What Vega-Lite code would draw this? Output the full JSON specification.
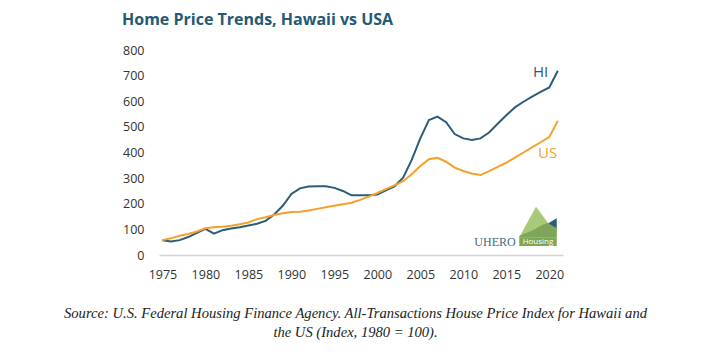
{
  "$schema": "https://vega.github.io/schema/vega-lite/v6.json",
  "width": 404,
  "height": 205,
  "autosize": "none",
  "padding": {"left": 159, "top": 50, "right": 154, "bottom": 99},
  "background": "white",
  "config": {"view": {"stroke": null}, "font": "Open Sans", "axis": {"labelOverlap": false, "grid": false, "ticks": false}},
  "title": {
    "text": "Home Price Trends, Hawaii vs USA",
    "anchor": "start",
    "frame": "group",
    "dx": -37,
    "font": "Open Sans",
    "fontSize": 16,
    "fontWeight": 700,
    "color": "#235a74",
    "offset": 16
  },
  "datasets": {
    "prices": [
      {"year": 1975, "HI": 58, "US": 58},
      {"year": 1976, "HI": 53, "US": 65},
      {"year": 1977, "HI": 58, "US": 75},
      {"year": 1978, "HI": 70, "US": 82},
      {"year": 1979, "HI": 86, "US": 92},
      {"year": 1980, "HI": 102, "US": 104},
      {"year": 1981, "HI": 83, "US": 108},
      {"year": 1982, "HI": 97, "US": 110},
      {"year": 1983, "HI": 103, "US": 114},
      {"year": 1984, "HI": 108, "US": 120},
      {"year": 1985, "HI": 115, "US": 127},
      {"year": 1986, "HI": 122, "US": 140},
      {"year": 1987, "HI": 133, "US": 147},
      {"year": 1988, "HI": 158, "US": 156},
      {"year": 1989, "HI": 192, "US": 163},
      {"year": 1990, "HI": 238, "US": 168},
      {"year": 1991, "HI": 260, "US": 169},
      {"year": 1992, "HI": 267, "US": 174},
      {"year": 1993, "HI": 268, "US": 180},
      {"year": 1994, "HI": 268, "US": 186},
      {"year": 1995, "HI": 262, "US": 192},
      {"year": 1996, "HI": 250, "US": 198},
      {"year": 1997, "HI": 233, "US": 204},
      {"year": 1998, "HI": 233, "US": 215},
      {"year": 1999, "HI": 233, "US": 228},
      {"year": 2000, "HI": 236, "US": 242},
      {"year": 2001, "HI": 252, "US": 257},
      {"year": 2002, "HI": 268, "US": 272},
      {"year": 2003, "HI": 302, "US": 288},
      {"year": 2004, "HI": 371, "US": 315},
      {"year": 2005, "HI": 455, "US": 347},
      {"year": 2006, "HI": 527, "US": 374},
      {"year": 2007, "HI": 540, "US": 379},
      {"year": 2008, "HI": 518, "US": 364},
      {"year": 2009, "HI": 472, "US": 341},
      {"year": 2010, "HI": 455, "US": 328},
      {"year": 2011, "HI": 449, "US": 318},
      {"year": 2012, "HI": 455, "US": 312},
      {"year": 2013, "HI": 478, "US": 327},
      {"year": 2014, "HI": 512, "US": 344},
      {"year": 2015, "HI": 545, "US": 360},
      {"year": 2016, "HI": 576, "US": 380},
      {"year": 2017, "HI": 598, "US": 400},
      {"year": 2018, "HI": 618, "US": 420},
      {"year": 2019, "HI": 637, "US": 440},
      {"year": 2020, "HI": 654, "US": 460},
      {"year": 2021, "HI": 719, "US": 524}
    ],
    "labels": [
      {"series": "HI", "year": 2019.0, "value": 714},
      {"series": "US", "year": 2019.8, "value": 398}
    ],
    "lightMountain": [
      {"year": 2016.51, "top": 69, "base": 69},
      {"year": 2018.46, "top": 188, "base": 69},
      {"year": 2019.89, "top": 124, "base": 69},
      {"year": 2020.87, "top": 104, "base": 69}
    ],
    "darkMountain": [
      {"year": 2016.51, "top": 74, "base": 69},
      {"year": 2018.14, "top": 98, "base": 69},
      {"year": 2019.89, "top": 124, "base": 69},
      {"year": 2020.87, "top": 104, "base": 69}
    ],
    "tealPeak": [
      {"year": 2019.89, "top": 124, "base": 124},
      {"year": 2020.87, "top": 143, "base": 104}
    ],
    "badge": [
      {"x0": 2016.51, "x1": 2020.87, "y0": 35, "y1": 69, "label": "Housing", "xc": 2018.69, "yc": 52}
    ],
    "brand": [
      {"label": "UHERO", "year": 2013.69, "value": 51}
    ]
  },
  "layer": [
    {
      "data": {"name": "prices"},
      "transform": [{"fold": ["HI", "US"], "as": ["series", "value"]}],
      "mark": {"type": "line", "strokeWidth": 2},
      "encoding": {
        "x": {
          "field": "year",
          "type": "quantitative",
          "scale": {"domain": [1974.6, 2021.6], "nice": false, "zero": false},
          "axis": {
            "values": [1975, 1980, 1985, 1990, 1995, 2000, 2005, 2010, 2015, 2020],
            "format": "d",
            "grid": false,
            "ticks": false,
            "labelOverlap": false,
            "domainColor": "#d4d4d4",
            "domainWidth": 1.5,
            "labelFont": "Open Sans",
            "labelFontSize": 12.5,
            "labelColor": "#333333",
            "labelPadding": 13,
            "title": ["Source: U.S. Federal Housing Finance Agency. All-Transactions House Price Index for Hawaii and", "the US (Index, 1980 = 100)."],
            "titleFont": "Liberation Serif",
            "titleFontStyle": "italic",
            "titleFontWeight": "normal",
            "titleFontSize": 14.6,
            "titleColor": "#222222",
            "titleLineHeight": 19,
            "titlePadding": 25,
            "titleX": 196,
            "titleAlign": "center"
          }
        },
        "y": {
          "field": "value",
          "type": "quantitative",
          "scale": {"domain": [0, 800], "nice": false},
          "axis": {
            "values": [0, 100, 200, 300, 400, 500, 600, 700, 800],
            "grid": false,
            "ticks": false,
            "domain": false,
            "labelOverlap": false,
            "labelFont": "Open Sans",
            "labelFontSize": 12.5,
            "labelColor": "#333333",
            "labelPadding": 15,
            "title": null
          }
        },
        "color": {
          "field": "series",
          "type": "nominal",
          "scale": {"domain": ["HI", "US"], "range": ["#2b5d78", "#f4a12a"]},
          "legend": null
        }
      }
    },
    {
      "data": {"name": "labels"},
      "mark": {"type": "text", "font": "Open Sans", "fontSize": 15, "align": "center", "baseline": "middle"},
      "encoding": {
        "x": {"field": "year", "type": "quantitative", "axis": {"values": [1975, 1980, 1985, 1990, 1995, 2000, 2005, 2010, 2015, 2020]}},
        "y": {"field": "value", "type": "quantitative", "axis": {"values": [0, 100, 200, 300, 400, 500, 600, 700, 800]}},
        "text": {"field": "series"},
        "color": {"field": "series", "type": "nominal", "legend": null}
      }
    },
    {
      "data": {"name": "lightMountain"},
      "mark": {"type": "area", "color": "#a9c978", "interpolate": "linear"},
      "encoding": {
        "x": {"field": "year", "type": "quantitative", "axis": {"values": [1975, 1980, 1985, 1990, 1995, 2000, 2005, 2010, 2015, 2020]}},
        "y": {"field": "top", "type": "quantitative", "axis": {"values": [0, 100, 200, 300, 400, 500, 600, 700, 800]}},
        "y2": {"field": "base"}
      }
    },
    {
      "data": {"name": "darkMountain"},
      "mark": {"type": "area", "color": "#7ea55a", "interpolate": "monotone"},
      "encoding": {
        "x": {"field": "year", "type": "quantitative", "axis": {"values": [1975, 1980, 1985, 1990, 1995, 2000, 2005, 2010, 2015, 2020]}},
        "y": {"field": "top", "type": "quantitative", "axis": {"values": [0, 100, 200, 300, 400, 500, 600, 700, 800]}},
        "y2": {"field": "base"}
      }
    },
    {
      "data": {"name": "tealPeak"},
      "mark": {"type": "area", "color": "#2b5d78"},
      "encoding": {
        "x": {"field": "year", "type": "quantitative", "axis": {"values": [1975, 1980, 1985, 1990, 1995, 2000, 2005, 2010, 2015, 2020]}},
        "y": {"field": "top", "type": "quantitative", "axis": {"values": [0, 100, 200, 300, 400, 500, 600, 700, 800]}},
        "y2": {"field": "base"}
      }
    },
    {
      "data": {"name": "badge"},
      "mark": {"type": "rect", "color": "#7da655"},
      "encoding": {
        "x": {"field": "x0", "type": "quantitative", "axis": {"values": [1975, 1980, 1985, 1990, 1995, 2000, 2005, 2010, 2015, 2020]}},
        "x2": {"field": "x1"},
        "y": {"field": "y0", "type": "quantitative", "axis": {"values": [0, 100, 200, 300, 400, 500, 600, 700, 800]}},
        "y2": {"field": "y1"}
      }
    },
    {
      "data": {"name": "badge"},
      "mark": {"type": "text", "font": "Open Sans", "fontSize": 8, "color": "white", "align": "center", "baseline": "middle"},
      "encoding": {
        "x": {"field": "xc", "type": "quantitative", "axis": {"values": [1975, 1980, 1985, 1990, 1995, 2000, 2005, 2010, 2015, 2020]}},
        "y": {"field": "yc", "type": "quantitative", "axis": {"values": [0, 100, 200, 300, 400, 500, 600, 700, 800]}},
        "text": {"field": "label"}
      }
    },
    {
      "data": {"name": "brand"},
      "mark": {"type": "text", "font": "Liberation Serif", "fontSize": 12, "color": "#3f6b84", "align": "center", "baseline": "middle"},
      "encoding": {
        "x": {"field": "year", "type": "quantitative", "axis": {"values": [1975, 1980, 1985, 1990, 1995, 2000, 2005, 2010, 2015, 2020]}},
        "y": {"field": "value", "type": "quantitative", "axis": {"values": [0, 100, 200, 300, 400, 500, 600, 700, 800]}},
        "text": {"field": "label"}
      }
    }
  ]
}
